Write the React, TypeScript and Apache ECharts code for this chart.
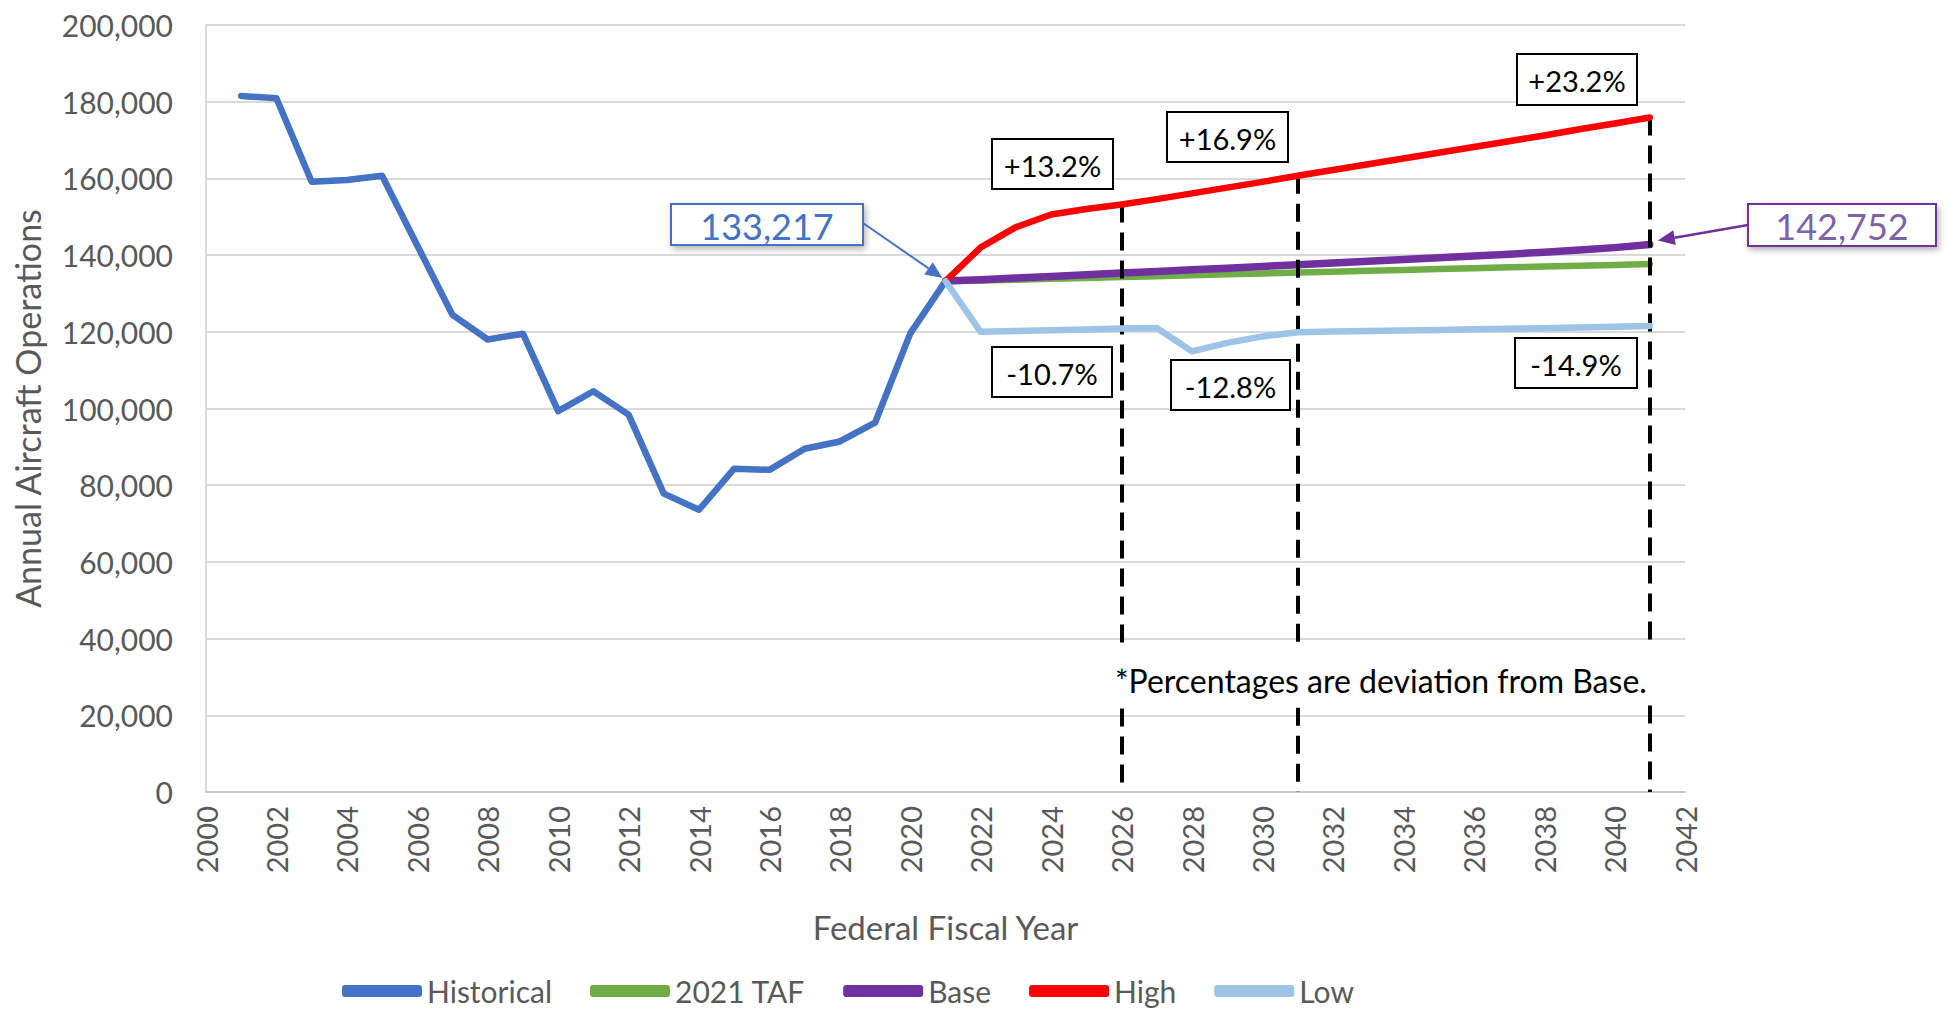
import React, { useEffect, useRef } from "react";
import * as echarts from "echarts";

const histYears = [2001, 2002, 2003, 2004, 2005, 2006, 2007, 2008, 2009, 2010, 2011, 2012, 2013, 2014, 2015, 2016, 2017, 2018, 2019, 2020, 2021];
const historical = [181500, 180900, 159100, 159600, 160700, 142500, 124400, 118000, 119500, 99300, 104500, 98400, 77800, 73600, 84300, 84000, 89500, 91400, 96300, 119600, 133217];

const fcstYears = [2021, 2022, 2023, 2024, 2025, 2026, 2027, 2028, 2029, 2030, 2031, 2032, 2033, 2034, 2035, 2036, 2037, 2038, 2039, 2040, 2041];
const taf = [133217, 133400, 133600, 133850, 134050, 134300, 134500, 134750, 135000, 135200, 135450, 135650, 135900, 136100, 136350, 136550, 136800, 137000, 137250, 137450, 137700];
const base = [133217, 133600, 134000, 134450, 134900, 135350, 135750, 136150, 136600, 137050, 137500, 137950, 138400, 138850, 139300, 139750, 140250, 140750, 141300, 141950, 142752];
const high = [133217, 142000, 147300, 150600, 152000, 153200, 154600, 156100, 157600, 159100, 160700, 162200, 163700, 165200, 166700, 168200, 169700, 171200, 172800, 174300, 175900];
const low = [133217, 120000, 120200, 120400, 120600, 120870, 121000, 114900, 117100, 118800, 119900, 120050, 120200, 120350, 120500, 120650, 120800, 120950, 121100, 121300, 121500];

const markerYears = [2026, 2031, 2041];
const highPctLabels = ["+13.2%", "+16.9%", "+23.2%"];
const lowPctLabels = ["-10.7%", "-12.8%", "-14.9%"];
const startLabel = "133,217";
const endLabel = "142,752";
const footnote = "*Percentages are deviation from Base.";

const seriesNames = ["Historical", "2021 TAF", "Base", "High", "Low"];
const seriesColors = ["#4472C4", "#70AD47", "#7030A0", "#FF0000", "#9DC3E6"];
const seriesWidths = [6.5, 6.5, 7.5, 6.5, 6.5];

const FONT = "Lato, 'Open Sans', sans-serif";

function pairs(xs: number[], ys: number[]) {
  return xs.map((x, i) => [x, ys[i]]);
}

export default function App() {
  const ref = useRef<HTMLDivElement>(null);
  useEffect(() => {
    if (!ref.current) return;
    const chart = echarts.init(ref.current, null, { renderer: "svg" });
    const seriesData = [
      pairs(histYears, historical),
      pairs(fcstYears, taf),
      pairs(fcstYears, base),
      pairs(fcstYears, high),
      pairs(fcstYears, low),
    ];
    const markLines = markerYears.map((yr) => {
      const hv = high[fcstYears.indexOf(yr)];
      return [{ coord: [yr, hv] }, { coord: [yr, 0] }];
    });
    const option: any = {
      animation: false,
      backgroundColor: "#ffffff",
      grid: { left: 206, right: 263, top: 25, bottom: 217, containLabel: false },
      xAxis: {
        type: "value",
        min: 2000,
        max: 2042,
        interval: 2,
        name: "Federal Fiscal Year",
        nameLocation: "middle",
        nameGap: 118,
        nameTextStyle: { color: "#595959", fontSize: 33, fontFamily: FONT },
        axisLine: { show: true, lineStyle: { color: "#C8C8C8", width: 2 } },
        axisTick: { show: false },
        splitLine: { show: false },
        axisLabel: {
          rotate: 90,
          color: "#595959",
          fontSize: 29,
          fontFamily: FONT,
          margin: 14,
          formatter: (v: number) => String(v),
        },
      },
      yAxis: {
        type: "value",
        min: 0,
        max: 200000,
        interval: 20000,
        name: "Annual Aircraft Operations",
        nameLocation: "middle",
        nameRotate: 90,
        nameGap: 162,
        nameTextStyle: { color: "#595959", fontSize: 34, fontFamily: FONT },
        axisLine: { show: true, lineStyle: { color: "#D9D9D9", width: 2 } },
        axisTick: { show: false },
        splitLine: { show: true, lineStyle: { color: "#D9D9D9", width: 2 } },
        axisLabel: { color: "#595959", fontSize: 30, fontFamily: FONT, margin: 33 },
      },
      legend: {
        left: 342,
        top: 976,
        itemWidth: 80,
        itemHeight: 12,
        itemGap: 38,
        icon: "roundRect",
        padding: 0,
        textStyle: { color: "#595959", fontSize: 30, lineHeight: 30, fontFamily: FONT },
        data: seriesNames,
      },
      series: seriesNames.map((name, i) => {
        const s: any = {
          name,
          type: "line",
          data: seriesData[i],
          showSymbol: false,
          symbol: "none",
          color: seriesColors[i],
          lineStyle: { color: seriesColors[i], width: seriesWidths[i], cap: "round", join: "round" },
          z: 2 + i,
        };
        if (name === "High") {
          s.markLine = {
            silent: true,
            symbol: ["none", "none"],
            label: { show: false },
            lineStyle: { color: "#000000", width: 4, type: [18, 10] },
            data: markLines,
          };
        }
        return s;
      }),
    };
    chart.setOption(option);

    const px = (x: number, y: number) => chart.convertToPixel({ xAxisIndex: 0, yAxisIndex: 0 }, [x, y]) as number[];
    const pStart = px(fcstYears[0], base[0]);
    const pEnd = px(fcstYears[fcstYears.length - 1], base[base.length - 1]);

    const arrow = (x1: number, y1: number, x2: number, y2: number, color: string, w: number) => {
      const dx = x2 - x1;
      const dy = y2 - y1;
      const len = Math.sqrt(dx * dx + dy * dy);
      const ux = dx / len;
      const uy = dy / len;
      const hl = 17;
      const hw = 7.5;
      const bx = x2 - ux * hl;
      const by = y2 - uy * hl;
      return [
        { type: "line", z: 100, shape: { x1, y1, x2: bx, y2: by }, style: { stroke: color, lineWidth: w } },
        {
          type: "polygon",
          z: 100,
          shape: { points: [[x2, y2], [bx - uy * hw, by + ux * hw], [bx + uy * hw, by - ux * hw]] },
          style: { fill: color },
        },
      ];
    };

    const box = (x: number, y: number, w: number, h: number, text: string, stroke: string, color: string, size: number, shadow: boolean) => [
      {
        type: "rect",
        z: 100,
        shape: { x, y, width: w, height: h },
        style: {
          fill: "#ffffff",
          stroke,
          lineWidth: 2,
          shadowBlur: shadow ? 6 : 0,
          shadowOffsetX: shadow ? 2 : 0,
          shadowOffsetY: shadow ? 3 : 0,
          shadowColor: "rgba(0,0,0,0.3)",
        },
      },
      {
        type: "text",
        z: 101,
        x: x + w / 2,
        y: y + h / 2 + 1,
        style: {
          text,
          fill: color,
          font: `${size}px ${FONT}`,
          align: "center",
          textAlign: "center",
          verticalAlign: "middle",
          textVerticalAlign: "middle",
        },
      },
    ];

    const highBoxes = [
      [992, 139, 121, 50],
      [1167, 112, 121, 50],
      [1517, 54, 120, 51],
    ];
    const lowBoxes = [
      [992, 347, 120, 50],
      [1171, 360, 119, 50],
      [1515, 338, 122, 50],
    ];

    const graphics: any[] = [];
    highBoxes.forEach((b, i) => graphics.push(...box(b[0], b[1], b[2], b[3], highPctLabels[i], "#000000", "#000000", 29, false)));
    lowBoxes.forEach((b, i) => graphics.push(...box(b[0], b[1], b[2], b[3], lowPctLabels[i], "#000000", "#000000", 29, false)));
    graphics.push(...box(671, 204, 192, 41, startLabel, "#4472C4", "#4472C4", 36, true));
    graphics.push(...box(1748, 204, 188, 42, endLabel, "#7030A0", "#7E62A8", 36, true));
    graphics.push(...arrow(863, 223, pStart[0] - 3, pStart[1] - 3, "#4472C4", 2));
    graphics.push(...arrow(1748, 225, pEnd[0] + 8, pEnd[1] - 4, "#7030A0", 2.5));
    graphics.push({ type: "rect", z: 99, shape: { x: 1108, y: 648, width: 548, height: 56 }, style: { fill: "#ffffff" } });
    graphics.push({
      type: "text",
      z: 101,
      x: 1115,
      y: 680,
      style: { text: footnote, fill: "#000000", font: `32px ${FONT}`, align: "left", textAlign: "left", verticalAlign: "middle", textVerticalAlign: "middle" },
    });

    chart.setOption({ graphic: graphics });

    return () => chart.dispose();
  }, []);
  return <div ref={ref} style={{ position: "fixed", left: 0, top: 0, width: 1948, height: 1009, background: "#fff" }} />;
}
